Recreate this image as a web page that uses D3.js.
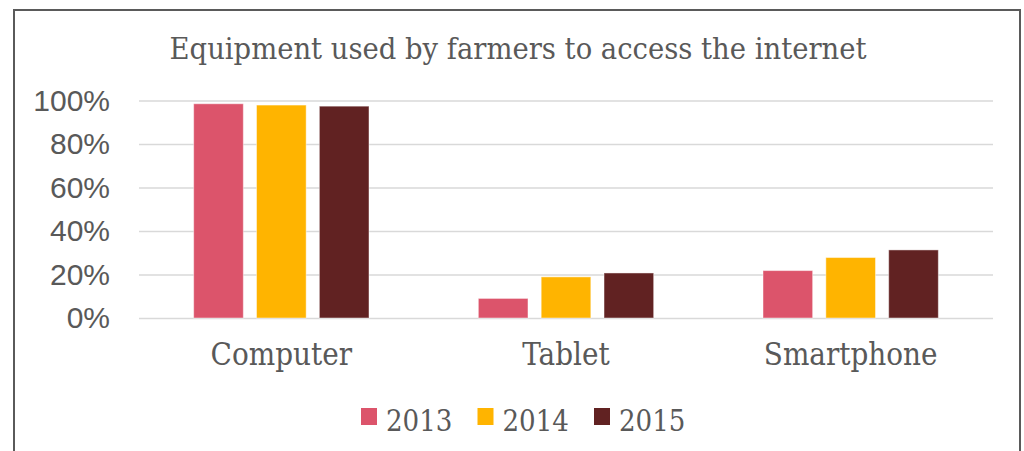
<!DOCTYPE html>
<html>
<head>
<meta charset="utf-8">
<script src="https://cdn.jsdelivr.net/npm/d3@7"></script>
<style>
  body { margin: 0; background: #fff; }
  svg { display: block; }
</style>
</head>
<body>
<div id="chart"></div>
<script>
// data
const categories = ["Computer", "Tablet", "Smartphone"];
const years = ["2013", "2014", "2015"];
const values2013 = [0.985, 0.09, 0.218];
const values2014 = [0.979, 0.189, 0.278];
const values2015 = [0.974, 0.207, 0.313];
const yTicks = [0, 0.2, 0.4, 0.6, 0.8, 1.0];
const title = "Equipment used by farmers to access the internet";

const series = [values2013, values2014, values2015];
const rows = categories.map((c, i) => ({
  category: c,
  values: years.map((y, j) => ({ year: y, value: series[j][i] }))
}));

const width = 1024, height = 451;
const margins = { top: 100.5, right: 31, bottom: 133, left: 139 };

const color = d3.scaleOrdinal()
  .domain(years)
  .range(["#dc546b", "#ffb400", "#612222"]);

const textGray = "#595959";
const serif = "'DejaVu Serif Condensed', 'DejaVu Serif', serif";

const svg = d3.select("#chart")
  .append("svg")
    .attr("width", width)
    .attr("height", height)
    .attr("viewBox", [0, 0, width, height]);

// outer frame
svg.append("rect")
  .attr("x", 14).attr("y", 10)
  .attr("width", 1006).attr("height", 460)
  .attr("fill", "none")
  .attr("stroke", "#5a5a5a")
  .attr("stroke-width", 2);

/* scales */
const x0 = d3.scaleBand()
  .domain(categories)
  .range([margins.left, width - margins.right])
  .padding(0);

const x1 = d3.scaleBand()
  .domain(years)
  .range([0, x0.bandwidth()])
  .paddingInner(0.21)
  .paddingOuter(0.87);

const yScale = d3.scaleLinear()
  .domain([0, 1])
  .range([height - margins.bottom, margins.top]);

/* y axis with gridlines */
const yAxis = d3.axisLeft(yScale)
  .tickValues(yTicks)
  .tickFormat(d3.format(".0%"))
  .tickSize(-(width - margins.right - margins.left))
  .tickPadding(29);

const yGroup = svg.append("g")
  .attr("transform", `translate(${margins.left},0)`)
  .call(yAxis);

yGroup.select(".domain").remove();
yGroup.selectAll(".tick line")
  .attr("stroke", "#d9d9d9")
  .attr("stroke-width", 1.3);
yGroup.selectAll(".tick text")
  .attr("fill", textGray)
  .style("font-family", "'Liberation Sans', Arial, sans-serif")
  .style("font-size", "30px");

/* bars */
const groups = svg.append("g")
  .selectAll("g")
  .data(rows)
  .join("g")
    .attr("transform", d => `translate(${x0(d.category)},0)`);

groups.selectAll("rect")
  .data(d => d.values)
  .join("rect")
    .attr("x", d => x1(d.year))
    .attr("y", d => yScale(d.value))
    .attr("width", x1.bandwidth())
    .attr("height", d => yScale(0) - yScale(d.value))
    .attr("fill", d => color(d.year))
    .attr("stroke", "rgba(255,255,255,0.45)")
    .attr("stroke-width", 1);

/* category labels */
const xAxis = d3.axisBottom(x0).tickSize(0).tickPadding(0);
const xGroup = svg.append("g")
  .attr("transform", `translate(0,${height - margins.bottom})`)
  .call(xAxis);
xGroup.select(".domain").remove();
xGroup.selectAll(".tick text")
  .attr("y", 47)
  .attr("dy", 0)
  .attr("fill", textGray)
  .style("font-family", serif)
  .style("font-size", "31px");

/* title */
svg.append("text")
  .attr("x", 518)
  .attr("y", 59)
  .attr("text-anchor", "middle")
  .attr("fill", textGray)
  .style("font-family", serif)
  .style("font-size", "30.5px")
  .text(title);

/* legend */
const legendX = d3.scalePoint()
  .domain(years)
  .range([361, 594]);

const legend = svg.append("g")
  .selectAll("g")
  .data(years)
  .join("g")
    .attr("transform", d => `translate(${legendX(d)},408)`);

legend.append("rect")
  .attr("width", 16)
  .attr("height", 17)
  .attr("fill", d => color(d));

legend.append("text")
  .attr("x", 25)
  .attr("y", 23)
  .attr("fill", textGray)
  .style("font-family", serif)
  .style("font-size", "29px")
  .text(d => d);
</script>
</body>
</html>
